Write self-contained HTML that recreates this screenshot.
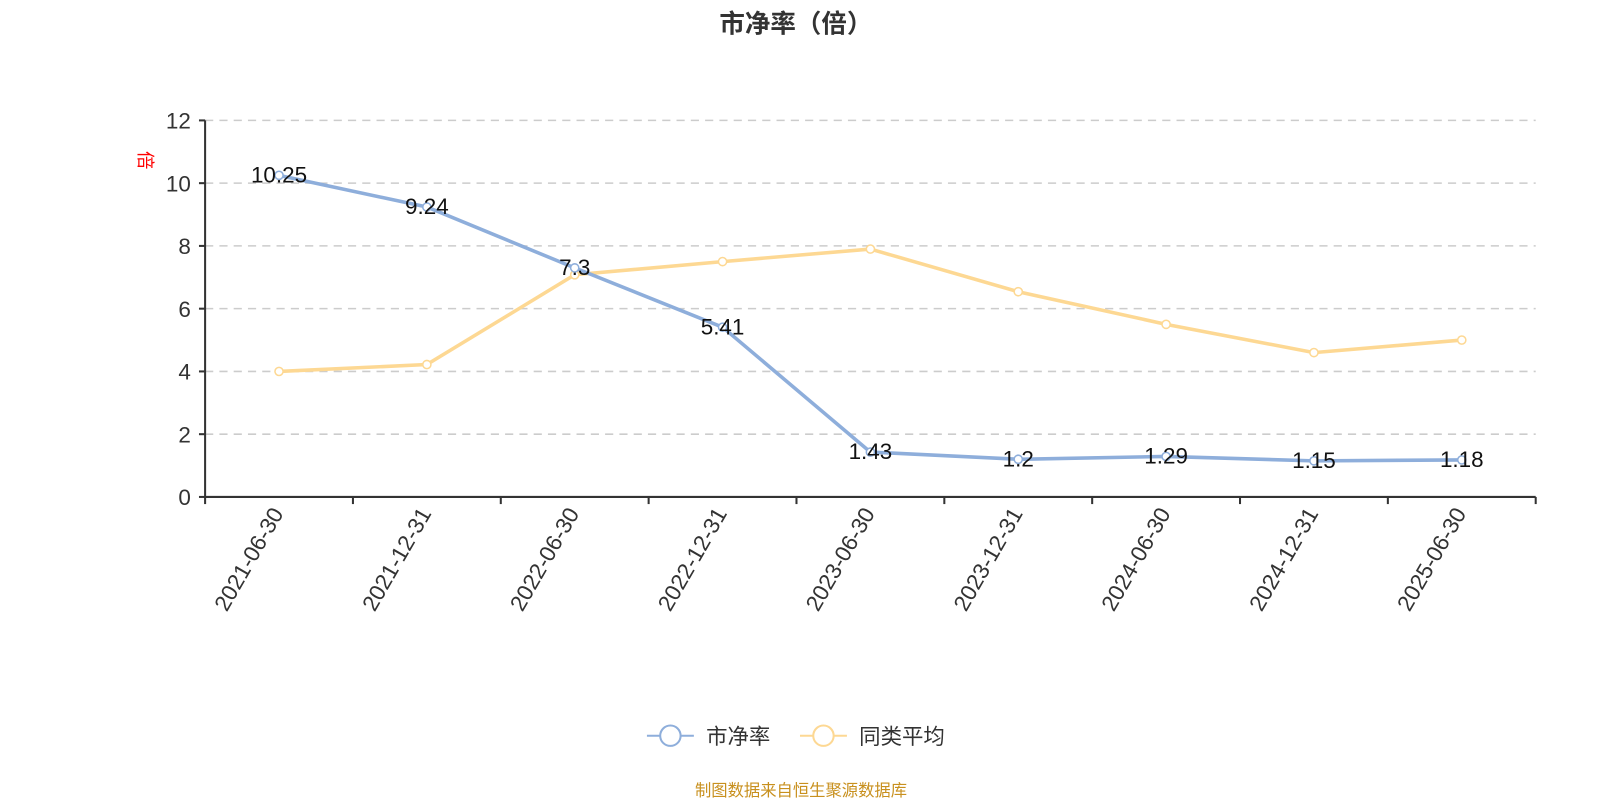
<!DOCTYPE html>
<html><head><meta charset="utf-8"><style>
body{margin:0;background:#fff;}
svg text{font-family:"Liberation Sans","Noto Sans CJK SC",sans-serif;}
</style></head><body>
<svg id="c" width="1600" height="800" xmlns="http://www.w3.org/2000/svg">
<g transform="scale(1.0204)">
<text x="780" y="32" text-anchor="middle" font-size="25" font-weight="bold" fill="#333">市净率（倍）</text>
<text transform="translate(136,157) rotate(90)" text-anchor="middle" font-size="18" fill="#f00">倍</text>
<g id="grid"></g><g id="series"></g>
<g>
<g>
<line x1="634" y1="721" x2="680" y2="721" stroke="#8eaedb" stroke-width="2"/>
<circle cx="657" cy="721" r="10" fill="#fff" stroke="#8eaedb" stroke-width="2"/>
<text x="692" y="729" font-size="21" fill="#333">市净率</text></g>
<g>
<line x1="784" y1="721" x2="830" y2="721" stroke="#fdd893" stroke-width="2"/>
<circle cx="807" cy="721" r="10" fill="#fff" stroke="#fdd893" stroke-width="2"/>
<text x="842" y="729" font-size="21" fill="#333">同类平均</text></g>
</g>
<text x="785" y="780" text-anchor="middle" font-size="16" fill="#c8901e">制图数据来自恒生聚源数据库</text>
</g>
</svg>
<script>
const categories=["2021-06-30","2021-12-31","2022-06-30","2022-12-31","2023-06-30","2023-12-31","2024-06-30","2024-12-31","2025-06-30"];
const pbValues=[10.25,9.24,7.3,5.41,1.43,1.2,1.29,1.15,1.18];
const peerValues=[4.0,4.22,7.08,7.5,7.9,6.54,5.5,4.6,5.0];
const yTicks=[0,2,4,6,8,10,12];
const NS="http://www.w3.org/2000/svg";
const X0=201,X1=1505,Y0=487,Y1=118,YMAX=12;
const bw=(X1-X0)/categories.length;
const xs=i=>X0+bw*(i+0.5);
const ys=v=>Y0-(v/YMAX)*(Y0-Y1);
function mk(t,a,p){const e=document.createElementNS(NS,t);for(const k in a)e.setAttribute(k,a[k]);p.appendChild(e);return e;}
const g=document.getElementById('grid'),s=document.getElementById('series');
yTicks.forEach(v=>{
 if(v>0){const l=mk('line',{x1:X0,x2:X1,y1:ys(v),y2:ys(v),stroke:'#ccc','stroke-dasharray':'8,6','stroke-width':1.5},g);
 
 }
 const tk=mk('line',{x1:X0-6,x2:X0,y1:ys(v),y2:ys(v),stroke:'#333','stroke-width':2},g);
 
 
 const t=mk('text',{x:X0-14,y:ys(v)+8,'text-anchor':'end','font-size':22,fill:'#333'},g);t.textContent=v;
 
 
});
const ya=mk('line',{x1:X0,x2:X0,y1:Y1,y2:Y0,stroke:'#333','stroke-width':2},g);


const xa=mk('line',{x1:X0,x2:X1,y1:Y0,y2:Y0,stroke:'#333','stroke-width':2},g);


for(let i=0;i<=categories.length;i++){const x=X0+bw*i;const tk=mk('line',{x1:x,x2:x,y1:Y0,y2:Y0+7,stroke:'#333','stroke-width':2},g);
 
 }
categories.forEach((c,i)=>{const x=xs(i);const t=mk('text',{transform:`translate(${x+5},${Y0+16}) rotate(-60)`,'text-anchor':'end','font-size':22,fill:'#333'},g);t.textContent=c;
 
 });
function line(vals,color,name,labels){
 const pts=vals.map((v,i)=>xs(i)+','+ys(v)).join(' ');
 const pl=mk('polyline',{points:pts,fill:'none',stroke:color,'stroke-width':3.5},s);
 
 
 vals.forEach((v,i)=>{const c=mk('circle',{cx:xs(i),cy:ys(v),r:4,fill:'#fff',stroke:color,'stroke-width':1.5},s);
  
  
  if(labels){const t=mk('text',{x:xs(i),y:ys(v)+7,'text-anchor':'middle','font-size':22,fill:'#111'},s);t.textContent=v;
  
  }});
}
line(peerValues,'#fdd893','peer-average',false);
line(pbValues,'#8eaedb','pb',true);
</script>
</body></html>
